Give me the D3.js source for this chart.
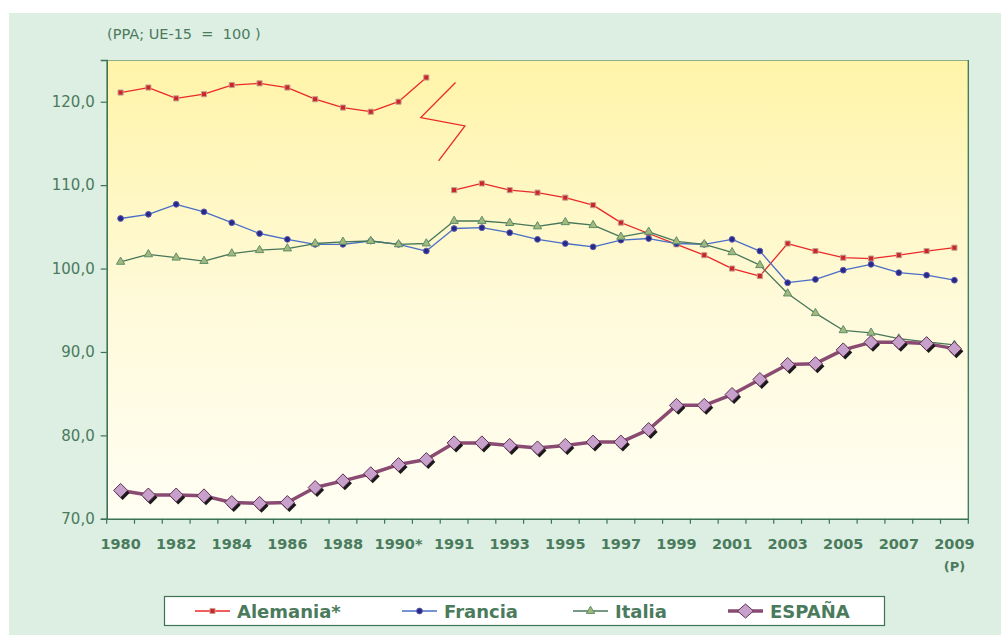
<!DOCTYPE html>
<html>
<head>
<meta charset="utf-8">
<script src="https://cdn.jsdelivr.net/npm/d3@7"></script>
<style>
  body { margin: 0; background: #fff; }
  #canvas { width: 1001px; height: 635px; }
  svg text { font-family: "DejaVu Sans", sans-serif; }
</style>
</head>
<body>
<div id="canvas"></div>
<script>
const years = ['1980','1981','1982','1983','1984','1985','1986','1987','1988','1989','1990','1990*',
  '1991','1992','1993','1994','1995','1996','1997','1998','1999','2000',
  '2001','2002','2003','2004','2005','2006','2007','2008','2009'];
const tickLabels = ['1980','1982','1984','1986','1988','1990*','1991','1993','1995','1997','1999',
  '2001','2003','2005','2007','2009'];
const yTicks = [70, 80, 90, 100, 110, 120];

// Alemania: antes (RFA) y despues de la unificacion
const alemaniaA = [121.1, 121.7, 120.4, 120.9, 122.0, 122.2, 121.7, 120.3, 119.3, 118.8, 120.0, 122.9];
const alemaniaB = [109.4, 110.2, 109.4, 109.1, 108.5, 107.6, 105.5, 104.2, 102.9, 101.6, 100.0,
  99.1, 103.0, 102.1, 101.3, 101.2, 101.6, 102.1, 102.5];
const francia = [106.0, 106.5, 107.7, 106.8, 105.5, 104.2, 103.5, 102.9, 102.9, 103.3, 102.9, 102.1,
  104.8, 104.9, 104.3, 103.5, 103.0, 102.6, 103.4, 103.6, 103.0, 102.9, 103.5, 102.1, 98.3, 98.7,
  99.8, 100.5, 99.5, 99.2, 98.6];
const italia = [100.8, 101.7, 101.3, 100.9, 101.8, 102.2, 102.4, 103.0, 103.2, 103.3, 102.9, 103.0,
  105.7, 105.7, 105.45, 105.05, 105.55, 105.2, 103.8, 104.4, 103.25, 102.9, 101.95, 100.4, 97.0,
  94.65, 92.6, 92.3, 91.6, 91.2, 90.85];
const espana = [73.4, 72.85, 72.85, 72.75, 71.95, 71.85, 71.95, 73.75, 74.55, 75.4, 76.5, 77.1,
  79.1, 79.1, 78.8, 78.5, 78.8, 79.2, 79.2, 80.7, 83.6, 83.6, 84.9, 86.7, 88.5, 88.6, 90.25,
  91.15, 91.15, 91.0, 90.4];
// break symbol of the German series: [offset in steps from 1990*, value]
const breakMark = [[1.05, 122.3], [-0.2, 118.1], [1.39, 117.1], [0.44, 112.9]];

const W = 1001, H = 635;
const pLeft = 106.7, pRight = 968.3, pTop = 60, pBottom = 518.8;
const textColor = '#4a7b5c', axisColor = '#3c7454';

const svg = d3.select('#canvas').append('svg')
  .attr('width', W)
  .attr('height', H);

svg.append('rect')
  .attr('x', 9).attr('y', 13)
  .attr('width', W - 9).attr('height', H - 13)
  .attr('fill', '#ddeee3');

const grad = svg.append('defs').append('linearGradient')
  .attr('id', 'bg').attr('x1', 0).attr('y1', 0).attr('x2', 0).attr('y2', 1);
grad.append('stop').attr('offset', '0%').attr('stop-color', '#fff4a8');
grad.append('stop').attr('offset', '55%').attr('stop-color', '#fffadb');
grad.append('stop').attr('offset', '100%').attr('stop-color', '#fffef3');

svg.append('rect')
  .attr('x', pLeft).attr('y', pTop)
  .attr('width', pRight - pLeft).attr('height', pBottom - pTop)
  .attr('fill', 'url(#bg)');
svg.append('line')
  .attr('x1', pLeft).attr('x2', pRight).attr('y1', pTop + 0.5).attr('y2', pTop + 0.5)
  .attr('stroke', '#8fb08a').attr('stroke-width', 1.2);
svg.append('line')
  .attr('x1', pRight).attr('x2', pRight).attr('y1', pTop).attr('y2', pBottom)
  .attr('stroke', axisColor).attr('stroke-width', 1.3);

const x = d3.scaleBand().domain(years).range([pLeft, pRight]).padding(0);
const y = d3.scaleLinear().domain([70, 125]).range([pBottom, pTop]);
const cx = d => x(d) + x.bandwidth() / 2;

svg.append('text')
  .attr('x', 107).attr('y', 39)
  .attr('fill', textColor)
  .attr('font-size', '14.5px')
  .attr('xml:space', 'preserve')
  .text('(PPA; UE-15  =  100 )');

// y axis
const yAxis = d3.axisLeft(y)
  .tickValues(yTicks)
  .tickSize(6)
  .tickPadding(6)
  .tickFormat(d => d3.format('.1f')(d).replace('.', ','));
const gy = svg.append('g')
  .attr('transform', `translate(${pLeft}, 0)`)
  .call(yAxis);
gy.select('.domain').attr('stroke', axisColor).attr('stroke-width', 1.6);
gy.selectAll('.tick line').attr('stroke', axisColor).attr('stroke-width', 1.2);
gy.selectAll('.tick text')
  .attr('fill', textColor)
  .attr('font-size', '15px')
  .attr('font-family', '"DejaVu Sans", sans-serif');

// x axis: labels on every other year, ticks on band edges
const xAxis = d3.axisBottom(x)
  .tickSize(0)
  .tickPadding(20)
  .tickFormat((d, i) => i % 2 === 0 ? tickLabels[i / 2] : '');
const gx = svg.append('g')
  .attr('transform', `translate(0, ${pBottom})`)
  .call(xAxis);
gx.select('.domain').attr('stroke', axisColor).attr('stroke-width', 1.6);
gx.selectAll('.tick text')
  .attr('fill', textColor)
  .attr('font-size', '14.5px')
  .attr('font-weight', 'bold')
  .attr('font-family', '"DejaVu Sans", sans-serif');
gx.selectAll('.edge')
  .data(years.map(d => x(d)).concat([pRight]))
  .enter().append('line')
  .attr('class', 'edge')
  .attr('x1', d => d).attr('x2', d => d)
  .attr('y1', 0).attr('y2', 5)
  .attr('stroke', axisColor).attr('stroke-width', 1.2);
svg.append('text')
  .attr('x', cx(years[years.length - 1]))
  .attr('y', 571)
  .attr('text-anchor', 'middle')
  .attr('fill', textColor)
  .attr('font-size', '13px')
  .attr('font-weight', 'bold')
  .text('(P)');

const line = d3.line().x(d => cx(d.year)).y(d => y(d.v));
const toPts = (vals, offset) => vals.map((v, i) => ({ year: years[i + offset], v }));

const series = [
  { name: 'Alemania*', parts: [toPts(alemaniaA, 0), toPts(alemaniaB, 12)], stroke: '#ea2a2a', width: 1.3, mark: 'square', fill: '#c8262c', mstroke: '#c7a08c' },
  { name: 'Francia', parts: [toPts(francia, 0)], stroke: '#4a6fc6', width: 1.3, mark: 'circle', fill: '#27278c', mstroke: '#5a5aa8' },
  { name: 'Italia', parts: [toPts(italia, 0)], stroke: '#47775a', width: 1.3, mark: 'triangle', fill: '#a2b97a', mstroke: '#5e8f6c' },
  { name: 'ESPAÑA', parts: [toPts(espana, 0)], stroke: '#8a4b72', width: 3.5, mark: 'diamond', fill: '#c8a0cc', mstroke: '#5e3050' }
];

const symbolOf = s => {
  if (s.mark === 'square') return d3.symbol(d3.symbolSquare, 26)();
  if (s.mark === 'circle') return d3.symbol(d3.symbolCircle, 26)();
  if (s.mark === 'triangle') return d3.symbol(d3.symbolTriangle, 30)();
  return 'M0,-7L7,0L0,7L-7,0Z';
};

const drawMarks = (g, s, pts) => {
  if (s.mark === 'diamond') {
    g.selectAll('.shadow').data(pts).enter().append('path')
      .attr('class', 'shadow')
      .attr('d', symbolOf(s))
      .attr('transform', d => `translate(${cx(d.year) + 2}, ${y(d.v) + 2.5})`)
      .attr('fill', '#1a1a1a');
  }
  g.selectAll('.mk').data(pts).enter().append('path')
    .attr('class', 'mk')
    .attr('d', symbolOf(s))
    .attr('transform', d => `translate(${cx(d.year)}, ${y(d.v)})`)
    .attr('fill', s.fill)
    .attr('stroke', s.mstroke)
    .attr('stroke-width', 1);
};

series.forEach(s => {
  const g = svg.append('g');
  s.parts.forEach(pts => {
    g.append('path')
      .attr('d', line(pts))
      .attr('fill', 'none')
      .attr('stroke', s.stroke)
      .attr('stroke-width', s.width)
      .attr('stroke-linejoin', 'round');
  });
  s.parts.forEach(pts => drawMarks(g.append('g'), s, pts));
});

// break zigzag
const bx = cx('1990*');
svg.append('path')
  .attr('d', d3.line().x(d => bx + d[0] * x.step()).y(d => y(d[1]))(breakMark))
  .attr('fill', 'none')
  .attr('stroke', '#ea2a2a')
  .attr('stroke-width', 1.3);

// legend
const legend = svg.append('g');
legend.append('rect')
  .attr('x', 164.5).attr('y', 596.5)
  .attr('width', 720).attr('height', 29)
  .attr('fill', '#fff')
  .attr('stroke', axisColor)
  .attr('stroke-width', 1.2);
const legX = [195, 402, 573, 728];
series.forEach((s, i) => {
  const item = legend.append('g').attr('transform', `translate(${legX[i]}, 611)`);
  item.append('line')
    .attr('x1', 0).attr('x2', 35)
    .attr('stroke', s.stroke)
    .attr('stroke-width', s.width);
  item.append('path')
    .attr('d', s.mark === 'diamond' ? 'M0,-7L8,0L0,7L-8,0Z' : symbolOf(s))
    .attr('transform', 'translate(17.5, 0)')
    .attr('fill', s.fill)
    .attr('stroke', s.mstroke)
    .attr('stroke-width', 1);
  item.append('text')
    .attr('x', 42).attr('y', 6.5)
    .attr('fill', textColor)
    .attr('font-size', '18px')
    .attr('font-weight', 'bold')
    .text(s.name);
});
</script>
</body>
</html>
